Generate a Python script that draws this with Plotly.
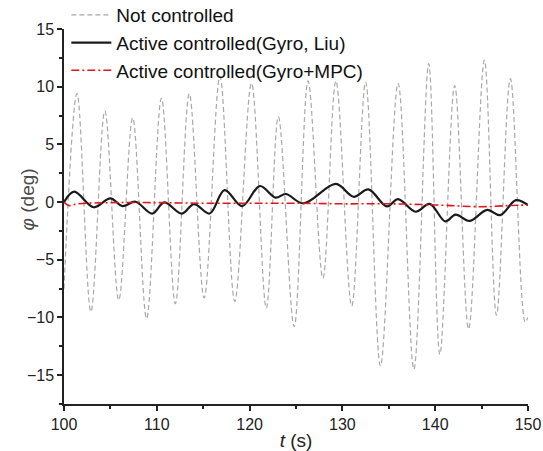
import plotly.graph_objects as go

# Not controlled (peaks and troughs)
t_nc = [100.0, 101.4, 102.9, 104.4, 105.9, 107.4, 108.9, 110.5, 112.0, 113.5, 115.1,
        116.8, 118.4, 120.2, 121.8, 123.1, 124.8, 126.3, 127.9, 129.3, 131.0,
        132.5, 134.1, 136.0, 137.7, 139.3, 140.5, 142.1, 143.6, 145.3, 146.6,
        148.1, 149.7, 150.0]
phi_nc = [-7.5, 9.4, -9.5, 7.9, -8.5, 7.3, -10.1, 9.0, -8.8, 9.4, -8.3,
          10.9, -8.6, 10.3, -9.2, 7.4, -10.8, 10.5, -6.6, 10.5, -9.0,
          10.4, -14.2, 10.3, -14.5, 12.0, -13.2, 10.1, -11.0, 12.3, -9.8,
          10.7, -10.4, -10.0]

# Active controlled (Gyro, Liu)
t_liu = [100.0, 101.1, 103.2, 105.0, 106.3, 107.7, 109.5, 110.8, 112.7, 114.0, 115.7,
         117.3, 119.2, 121.1, 122.8, 123.9, 125.8, 129.3, 131.2, 132.8, 134.8,
         136.0, 137.9, 139.4, 141.1, 142.2, 143.7, 145.6, 147.0, 148.7, 150.0]
phi_liu = [0.0, 0.9, -0.45, 0.32, -0.35, 0.03, -1.0, -0.03, -1.0, -0.17, -0.99,
           1.04, -0.35, 1.39, 0.38, 0.7, -0.12, 1.57, 0.46, 1.1, -0.38,
           0.26, -0.84, -0.15, -1.68, -1.08, -1.63, -0.67, -1.13, 0.17, -0.26]

# Active controlled (Gyro+MPC)
t_mpc = [100.0, 100.5, 101.5, 105.0, 110.0, 115.0, 120.0, 125.0, 130.0, 135.0,
         140.0, 145.0, 148.0, 150.0]
phi_mpc = [0.0, -0.3, -0.15, -0.05, -0.05, -0.1, -0.1, -0.1, -0.15, -0.15,
           -0.25, -0.4, -0.3, -0.25]

fig = go.Figure()
fig.add_trace(go.Scatter(
    x=t_nc, y=phi_nc, mode="lines", name="Not controlled",
    line=dict(color="#a8a8a8", width=1.2, dash="5px,3px", shape="spline", smoothing=1.0)))
fig.add_trace(go.Scatter(
    x=t_liu, y=phi_liu, mode="lines", name="Active controlled(Gyro, Liu)",
    line=dict(color="#1a1a1a", width=2.2, shape="spline", smoothing=1.0)))
fig.add_trace(go.Scatter(
    x=t_mpc, y=phi_mpc, mode="lines", name="Active controlled(Gyro+MPC)",
    line=dict(color="#e3141b", width=1.6, dash="8px,3px,2px,3px", shape="spline")))

axis_common = dict(
    showgrid=False, zeroline=False, showline=True, linecolor="#222222", linewidth=1.5,
    ticks="outside", ticklen=5, tickwidth=1.5, tickcolor="#222222",
    tickfont=dict(family="Liberation Sans, Arial, sans-serif", size=16, color="#222222"),
    mirror=False, automargin=False,
)

fig.update_layout(
    width=543, height=451,
    margin=dict(l=64, r=15, t=29, b=47, autoexpand=False),
    paper_bgcolor="white", plot_bgcolor="white",
    font=dict(family="Liberation Sans, Arial, sans-serif", color="#222222"),
    xaxis=dict(range=[100, 150], tickvals=[100, 110, 120, 130, 140, 150],
               minor=dict(dtick=5, ticks="outside", ticklen=3, tickwidth=1.5, tickcolor="#222222"),
               title=dict(text="<i>t</i> (s)", font=dict(size=19), standoff=2),
               **axis_common),
    yaxis=dict(range=[-17.5, 15], tickvals=[-15, -10, -5, 0, 5, 10, 15],
               ticktext=["\u221215", "\u221210", "\u22125", "0", "5", "10", "15"],
               minor=dict(dtick=2.5, ticks="outside", ticklen=3, tickwidth=1.5, tickcolor="#222222"),
               **axis_common),
    legend=dict(x=0.005, y=1.088, xanchor="left", yanchor="top",
                bgcolor="rgba(0,0,0,0)", font=dict(size=19, color="#111111"),
                tracegroupgap=0, itemwidth=40),
    showlegend=True,
)

# y-axis title as rotated annotation, placed as in the reference
fig.add_annotation(text="<i>\u03c6</i> (deg)", xref="paper", yref="paper",
                   x=-0.078, y=0.545, xanchor="center", yanchor="middle",
                   textangle=-90, showarrow=False,
                   font=dict(size=19, color="#4a4a4a"))

fig.write_html("out.html", config={"displayModeBar": False},
               post_script="document.body.style.margin='0px';document.body.style.overflow='hidden';")
